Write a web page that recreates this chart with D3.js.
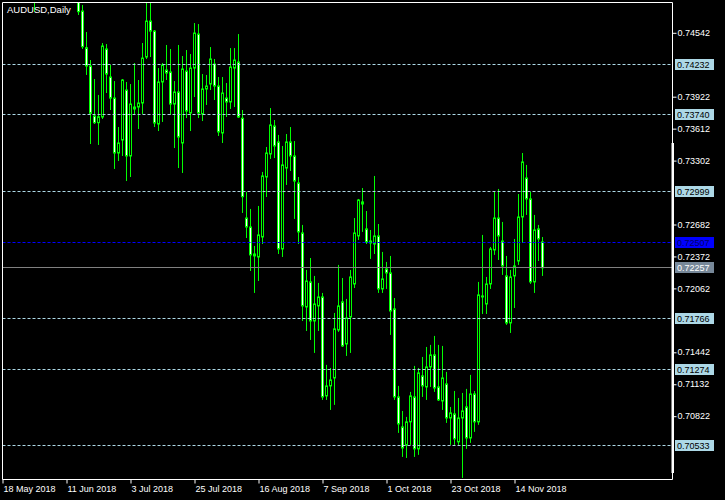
<!DOCTYPE html>
<html><head><meta charset="utf-8">
<script src="https://cdn.jsdelivr.net/npm/d3@7"></script>
<style>html,body{margin:0;padding:0;background:#000;}svg{display:block}</style>
</head><body><svg id="c" width="725" height="500"></svg>
<script>
const title = "AUDUSD,Daily";
// trading days (Mon-Fri) from 18 May 2018 to 23 Nov 2018
const firstDay = new Date(2018, 4, 18), lastDay = new Date(2018, 10, 23);
const xTickDates = ["2018-05-18","2018-06-11","2018-07-03","2018-07-25","2018-08-16","2018-09-07","2018-10-01","2018-10-23","2018-11-14"];
const priceTicks = [0.74542,0.73922,0.73612,0.73302,0.72682,0.72372,0.72062,0.71442,0.71132,0.70822];
const levelLines = [0.74232,0.73740,0.72999,0.71766,0.71274,0.70533];
const blueLine = 0.72507;
const bidLine = 0.72257;

const open = [
0.7515,0.7520,0.7563,0.7586,0.7548,0.7580,0.7560,0.7570,0.7505,0.7570,
0.7562,0.7605,0.7620,0.7635,0.7660,0.7615,0.7600,0.7595,0.7565,0.7580,
0.74748,0.74392,0.74215,0.73730,0.73665,0.73720,0.74380,0.74108,0.73904,0.73371,
0.73497,0.73982,0.73342,0.73817,0.73817,0.73856,0.74302,0.74651,0.74554,0.73652,
0.74060,0.74176,0.74157,0.73846,0.73963,0.73468,0.74166,0.73759,0.74195,0.74525,
0.73749,0.73992,0.74040,0.74234,0.74021,0.73565,0.73904,0.73866,0.74195,0.74254,
0.73708,0.72740,0.72653,0.72391,0.72362,0.72556,0.73138,0.73361,0.73633,0.73478,
0.72440,0.73225,0.73478,0.73342,0.73080,0.72595,0.71877,0.72120,0.71741,0.71887,
0.71974,0.71014,0.71111,0.71188,0.71654,0.71926,0.71518,0.71780,0.72100,0.72566,
0.72896,0.72634,0.72517,0.72488,0.72566,0.72052,0.72246,0.72207,0.71858,0.71004,
0.70713,0.70539,0.70762,0.71004,0.70500,0.71208,0.71101,0.71295,0.71412,0.71101,
0.70965,0.71130,0.70800,0.70839,0.70568,0.70800,0.70907,0.70606,0.71033,0.70762,
0.71974,0.71906,0.72100,0.72430,0.72740,0.72517,0.72178,0.71722,0.72178,0.72323,
0.72750,0.73128,0.72925,0.72120,0.72634,0.72508];
const high = [
0.7538,0.7572,0.7590,0.7590,0.7592,0.7590,0.7585,0.7578,0.7580,0.7582,
0.7612,0.7640,0.7650,0.7677,0.7676,0.7622,0.7620,0.7610,0.7590,0.7590,
0.74807,0.74545,0.74273,0.74089,0.73934,0.74438,0.74428,0.74225,0.74069,0.73623,
0.74089,0.74060,0.74040,0.74244,0.74079,0.74438,0.74870,0.74870,0.74564,0.74195,
0.74244,0.74419,0.74380,0.74069,0.74419,0.74312,0.74370,0.74331,0.74632,0.74622,
0.74137,0.74128,0.74399,0.74283,0.74108,0.74108,0.74050,0.74389,0.74389,0.74525,
0.73788,0.72993,0.72828,0.72469,0.72857,0.73187,0.73429,0.73807,0.73691,0.73546,
0.73439,0.73555,0.73623,0.73487,0.73138,0.72673,0.72236,0.72352,0.72178,0.72110,
0.72013,0.71315,0.71285,0.71819,0.72285,0.72158,0.71955,0.72236,0.72740,0.72925,
0.73031,0.72808,0.72624,0.73148,0.72682,0.72411,0.72314,0.72372,0.71964,0.71111,
0.70868,0.70810,0.71053,0.71305,0.71285,0.71392,0.71489,0.71509,0.71596,0.71509,
0.71499,0.71247,0.70907,0.71062,0.70994,0.71043,0.71082,0.71218,0.71062,0.72120,
0.72576,0.72168,0.72459,0.72993,0.73022,0.72702,0.72372,0.72236,0.72537,0.72973,
0.73371,0.73255,0.72993,0.72770,0.72673,0.72556];
const low = [
0.7495,0.7512,0.7555,0.7540,0.7538,0.7545,0.7550,0.7495,0.7474,0.7545,
0.7555,0.7590,0.7610,0.7625,0.7600,0.7585,0.7585,0.7540,0.7545,0.74710,
0.74380,0.74128,0.73458,0.73652,0.73449,0.73701,0.73953,0.73788,0.73216,0.73293,
0.73342,0.73099,0.73138,0.73740,0.73604,0.73749,0.74283,0.74302,0.73623,0.73584,
0.73672,0.74079,0.73740,0.73419,0.73225,0.73177,0.73710,0.73584,0.73914,0.73710,
0.73681,0.73837,0.73982,0.73885,0.73536,0.73468,0.73720,0.73798,0.73817,0.73710,
0.72789,0.72546,0.72226,0.72013,0.72129,0.72488,0.72944,0.73313,0.73322,0.72391,
0.72362,0.73061,0.73196,0.72731,0.72488,0.71741,0.71644,0.71557,0.71431,0.71644,
0.70975,0.70975,0.70878,0.70927,0.71635,0.71489,0.71402,0.71431,0.72061,0.72527,
0.72605,0.72488,0.72343,0.72391,0.72013,0.72013,0.72052,0.71606,0.70975,0.70655,
0.70422,0.70412,0.70539,0.70422,0.70442,0.71004,0.70975,0.71101,0.71053,0.70965,
0.70878,0.70752,0.70539,0.70539,0.70539,0.70218,0.70500,0.70558,0.70665,0.70733,
0.71809,0.71809,0.72052,0.72382,0.72333,0.72188,0.71703,0.71625,0.71867,0.72285,
0.72498,0.72770,0.72100,0.72013,0.72323,0.72178];
const close = [
0.7520,0.7563,0.7586,0.7548,0.7580,0.7560,0.7570,0.7505,0.7570,0.7562,
0.7605,0.7620,0.7635,0.7660,0.7615,0.7600,0.7595,0.7565,0.7580,0.74742,
0.74402,0.74215,0.73756,0.73665,0.73723,0.74409,0.74137,0.73904,0.73371,0.73468,
0.74079,0.73342,0.73846,0.73798,0.73856,0.74292,0.74651,0.74554,0.73662,0.74060,
0.74225,0.74147,0.73846,0.73963,0.73526,0.74186,0.73778,0.74195,0.74535,0.73759,
0.73992,0.74021,0.74283,0.74021,0.73575,0.73953,0.73866,0.74205,0.74273,0.73720,
0.72947,0.72653,0.72382,0.72372,0.72576,0.73148,0.73371,0.73643,0.73439,0.72440,
0.73255,0.73478,0.73342,0.73099,0.72605,0.71887,0.72129,0.71741,0.71906,0.71974,
0.71004,0.71111,0.71169,0.71664,0.71887,0.71499,0.71770,0.72168,0.72595,0.72915,
0.72876,0.72508,0.72498,0.72566,0.72052,0.72149,0.72207,0.71838,0.71004,0.70742,
0.70509,0.70762,0.71014,0.70500,0.71237,0.71111,0.71295,0.71412,0.71091,0.70975,
0.71188,0.70800,0.70849,0.70597,0.70800,0.70868,0.70606,0.71033,0.70762,0.71994,
0.71984,0.72100,0.72440,0.72740,0.72566,0.72275,0.71722,0.72168,0.72275,0.72750,
0.73284,0.72925,0.72120,0.72624,0.72537,0.72257];

const days = d3.timeDay.range(firstDay, d3.timeDay.offset(lastDay, 1)).filter(d => d.getDay() !== 0 && d.getDay() !== 6);
const keyFmt = d3.timeFormat("%Y-%m-%d");
const dayKeys = days.map(keyFmt);
const bars = dayKeys.map((k, i) => ({k, o: open[i], h: high[i], l: low[i], c: close[i]}));

const L = 2.5, T = 2.5, R = 672.5, B = 479.5;
const x = d3.scalePoint().domain(dayKeys).range([2.5, 2.5 + 4 * (dayKeys.length - 1)]);
const y = d3.scaleLinear().domain([0.70822, 0.74542]).range([415.7, 32.3]);
const crisp = v => Math.floor(v) + 0.5;
const FONT = "'Liberation Sans', Arial, sans-serif";

const svg = d3.select("#c");
svg.append("rect").attr("width", 725).attr("height", 500).attr("fill", "#000");
svg.append("defs").append("clipPath").attr("id", "plot")
  .append("rect").attr("x", L + 0.5).attr("y", T + 0.5).attr("width", R - L - 1).attr("height", B - T - 1);

const g = svg.append("g").attr("clip-path", "url(#plot)");

// candles
const cg = g.append("g");
cg.selectAll("line.wick").data(bars).join("line").attr("class", "wick")
  .attr("x1", d => x(d.k)).attr("x2", d => x(d.k))
  .attr("y1", d => y(d.h)).attr("y2", d => y(d.l))
  .attr("stroke", "#00ff00").attr("stroke-width", 1);
cg.selectAll("rect.body").data(bars).join("rect").attr("class", "body")
  .attr("x", d => x(d.k) - 1).attr("width", 2)
  .attr("y", d => y(Math.max(d.o, d.c)))
  .attr("height", d => Math.max(0.01, y(Math.min(d.o, d.c)) - y(Math.max(d.o, d.c))))
  .attr("fill", d => d.c > d.o ? "#000000" : "#ffffff")
  .attr("stroke", "#00ff00").attr("stroke-width", 1);

// level lines
g.selectAll("line.lvl").data(levelLines).join("line").attr("class", "lvl")
  .attr("x1", L).attr("x2", R).attr("y1", d => crisp(y(d))).attr("y2", d => crisp(y(d)))
  .attr("stroke", "#add8e6").attr("stroke-dasharray", "3,2");
g.append("line").attr("x1", L).attr("x2", R).attr("y1", crisp(y(blueLine))).attr("y2", crisp(y(blueLine)))
  .attr("stroke", "#0000ff").attr("stroke-dasharray", "3,2");
g.append("line").attr("x1", L).attr("x2", R).attr("y1", crisp(y(bidLine))).attr("y2", crisp(y(bidLine)))
  .attr("stroke", "#808080");

// frame
svg.append("line").attr("x1", L).attr("x2", R).attr("y1", T).attr("y2", T).attr("stroke", "#fff");
svg.append("line").attr("x1", L).attr("x2", R).attr("y1", B).attr("y2", B).attr("stroke", "#fff");
svg.append("line").attr("x1", L).attr("x2", L).attr("y1", T).attr("y2", B).attr("stroke", "#fff");
svg.append("line").attr("x1", R).attr("x2", R).attr("y1", T).attr("y2", B).attr("stroke", "#fff");
svg.append("rect").attr("x", R - 1).attr("y", 143).attr("width", 2.5).attr("height", 330).attr("fill", "#fff");

// right price axis
const yAxis = d3.axisRight(y).tickValues(priceTicks).tickSize(4).tickPadding(1).tickFormat(d3.format(".5f"));
const ya = svg.append("g").attr("transform", `translate(${R},0)`).call(yAxis);
ya.select(".domain").remove();
ya.selectAll(".tick line").attr("stroke", "#fff").attr("transform", "translate(0,0.5)");
ya.selectAll(".tick text").attr("fill", "#fff").attr("font-family", FONT).attr("font-size", "9px").attr("dy", "0.35em");

// level labels
const labels = levelLines.map(v => ({v, bg: "#add8e6", fg: "#000"}))
  .concat([{v: blueLine, bg: "#0000ff", fg: "#000066"}, {v: bidLine, bg: "#778899", fg: "#ffffff"}]);
const lg = svg.append("g");
labels.forEach(d => {
  const yy = crisp(y(d.v));
  lg.append("rect").attr("x", 675).attr("y", yy - 5.5).attr("width", 39).attr("height", 11).attr("fill", d.bg);
  lg.append("text").attr("x", 677).attr("y", yy + 3.5).attr("fill", d.fg)
    .attr("font-family", FONT).attr("font-size", "9px").text(d3.format(".5f")(d.v));
});

// bottom time axis
const tFmt = d3.timeFormat("%-d %b %Y"), parse = d3.timeParse("%Y-%m-%d");
const xAxis = d3.axisBottom(x).tickValues(xTickDates).tickSize(4).tickPadding(1).tickFormat(k => tFmt(parse(k)));
const xa = svg.append("g").attr("transform", `translate(0,${B})`).call(xAxis);
xa.select(".domain").remove();
xa.selectAll(".tick line").attr("stroke", "#fff");
xa.selectAll(".tick text").attr("fill", "#fff").attr("font-family", FONT).attr("font-size", "9px")
  .attr("text-anchor", "start").attr("dx", "0.5").attr("y", 5).attr("dy", "0.85em");

// title
svg.append("text").attr("x", 7).attr("y", 13).attr("fill", "#fff").attr("font-family", FONT)
  .attr("font-size", "9.5px").text(title);
</script></body></html>
